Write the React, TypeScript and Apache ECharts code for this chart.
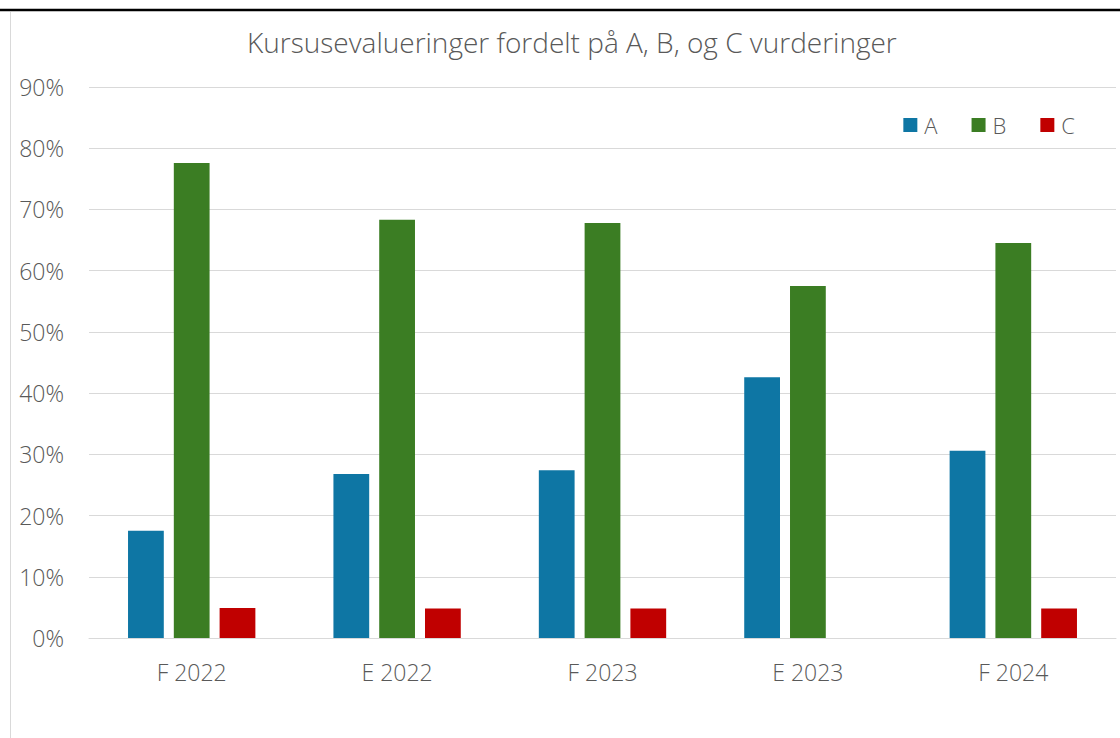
import React, { useEffect, useRef } from "react";
import * as echarts from "echarts";

const categories = ["F 2022", "E 2022", "F 2023", "E 2023", "F 2024"];
const seriesA = [17.5, 26.8, 27.4, 42.6, 30.6];
const seriesB = [77.6, 68.3, 67.8, 57.5, 64.5];
const seriesC = [4.9, 4.8, 4.8, 0, 4.8];
const yTicks = [0, 10, 20, 30, 40, 50, 60, 70, 80, 90];

const FONT = "'Open Sans', 'Noto Sans', sans-serif";
const TEXT = "#595959";

export default function App() {
  const ref = useRef<HTMLDivElement>(null);
  useEffect(() => {
    const chart = echarts.init(ref.current!, null, { renderer: "svg" });
    chart.setOption({
      animation: false,
      backgroundColor: "#ffffff",
      title: {
        text: "Kursusevalueringer fordelt på A, B, og C vurderinger",
        left: 247,
        top: 28,
        padding: 0,
        textStyle: { fontFamily: FONT, fontSize: 28, fontWeight: 300, color: TEXT },
      },
      legend: {
        right: 40,
        top: 109,
        itemWidth: 14,
        itemHeight: 14,
        itemGap: 34,
        icon: "rect",
        textStyle: { fontFamily: FONT, fontSize: 22, fontWeight: 300, color: TEXT, padding: [0, 0, 0, 2] },
        data: ["A", "B", "C"],
      },
      grid: { left: 89, right: 4, top: 87, bottom: 100, containLabel: false },
      xAxis: {
        type: "category",
        data: categories,
        axisLine: { lineStyle: { color: "#d9d9d9" } },
        axisTick: { show: false },
        axisLabel: { fontFamily: FONT, fontSize: 23, fontWeight: 300, color: TEXT, margin: 22 },
      },
      yAxis: {
        type: "value",
        min: yTicks[0],
        max: yTicks[yTicks.length - 1],
        interval: 10,
        axisLine: { show: false },
        axisTick: { show: false },
        splitLine: { lineStyle: { color: "#d9d9d9" } },
        axisLabel: {
          fontFamily: FONT,
          fontSize: 23,
          fontWeight: 300,
          color: TEXT,
          margin: 25,
          formatter: (v: number) => `${v}%`,
        },
      },
      series: [
        { name: "A", type: "bar", data: seriesA, itemStyle: { color: "#0E76A4" }, barGap: "28%", barCategoryGap: "38%" },
        { name: "B", type: "bar", data: seriesB, itemStyle: { color: "#3B7D23" } },
        { name: "C", type: "bar", data: seriesC, itemStyle: { color: "#C00000" } },
      ],
      graphic: [
        { type: "line", shape: { x1: 0, y1: 10, x2: 1120, y2: 10 }, style: { stroke: "#000", lineWidth: 2.5 }, z: 10 },
        { type: "line", shape: { x1: 10.5, y1: 12, x2: 10.5, y2: 738 }, style: { stroke: "#d9d9d9", lineWidth: 1 }, z: 10 },
      ],
    });
    return () => chart.dispose();
  }, []);
  return (
    <div
      ref={ref}
      style={{ position: "absolute", left: 0, top: 0, width: 1120, height: 738 }}
    />
  );
}
